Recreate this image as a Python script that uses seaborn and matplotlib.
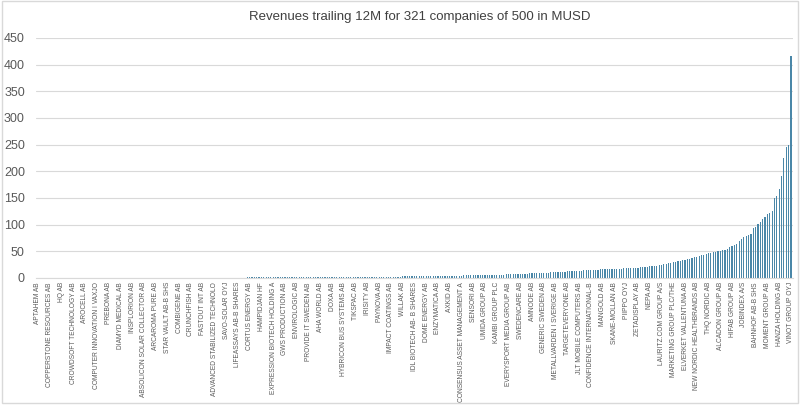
import matplotlib
matplotlib.use("Agg")
import matplotlib.pyplot as plt
import seaborn as sns
import pandas as pd
from matplotlib.patches import Rectangle

title = "Revenues trailing 12M for 321 companies of 500 in MUSD"

revenues = [
    0.01, 0.02, 0.02, 0.03, 0.04, 0.04, 0.05, 0.06, 0.07, 0.07, 0.08, 0.09, 0.10, 0.10, 0.11, 0.12, 0.13, 0.13, 0.14, 0.15,
    0.16, 0.16, 0.17, 0.18, 0.19, 0.20, 0.21, 0.21, 0.22, 0.23, 0.24, 0.25, 0.26, 0.27, 0.27, 0.28, 0.29, 0.30, 0.31, 0.32,
    0.33, 0.34, 0.35, 0.36, 0.37, 0.38, 0.39, 0.40, 0.41, 0.42, 0.43, 0.44, 0.45, 0.46, 0.47, 0.48, 0.49, 0.50, 0.51, 0.52,
    0.53, 0.54, 0.55, 0.56, 0.57, 0.58, 0.59, 0.60, 0.61, 0.62, 0.63, 0.64, 0.65, 0.66, 0.67, 0.68, 0.69, 0.70, 0.72, 0.73,
    0.74, 0.75, 0.76, 0.78, 0.79, 0.80, 0.81, 0.83, 0.84, 0.85, 0.87, 0.88, 0.89, 0.91, 0.92, 0.94, 0.95, 0.97, 0.98, 1.00,
    1.02, 1.03, 1.05, 1.07, 1.08, 1.10, 1.12, 1.14, 1.16, 1.18, 1.20, 1.22, 1.24, 1.26, 1.28, 1.30, 1.33, 1.35, 1.37, 1.40,
    1.42, 1.45, 1.47, 1.50, 1.53, 1.55, 1.58, 1.61, 1.64, 1.67, 1.70, 1.73, 1.76, 1.80, 1.83, 1.86, 1.90, 1.94, 1.97, 2.01,
    2.05, 2.09, 2.13, 2.17, 2.21, 2.26, 2.30, 2.35, 2.39, 2.44, 2.49, 2.54, 2.59, 2.64, 2.69, 2.75, 2.80, 2.86, 2.92, 2.98,
    3.04, 3.10, 3.16, 3.23, 3.29, 3.36, 3.43, 3.50, 3.57, 3.64, 3.71, 3.79, 3.86, 3.94, 4.02, 4.10, 4.18, 4.27, 4.35, 4.44,
    4.53, 4.62, 4.71, 4.80, 4.90, 5.00, 5.10, 5.20, 5.30, 5.41, 5.52, 5.63, 5.74, 5.85, 5.97, 6.09, 6.21, 6.33, 6.46, 6.59,
    6.7, 6.9, 7.1, 7.3, 7.5, 7.7, 7.9, 8.1, 8.3, 8.5, 8.7, 8.9, 9.1, 9.3, 9.5, 9.8, 10.0, 10.2, 10.5, 10.8,
    11.0, 11.2, 11.5, 11.7, 12.0, 12.2, 12.5, 12.7, 13.0, 13.2, 13.5, 13.7, 14.0, 14.2, 14.5, 14.8, 15.0, 15.3, 15.6, 15.9,
    16.1, 16.3, 16.5, 16.7, 16.9, 17.1, 17.3, 17.5, 17.7, 17.9, 18.1, 18.3, 18.6, 18.9, 19.2, 19.5, 19.8, 20.2, 20.6, 21.0,
    21.5, 22.0, 22.6, 23.3, 24.0, 24.8, 25.6, 26.5, 27.4, 28.3, 29.2, 30.1, 31.0, 32.0, 33.0, 34.0, 35.0, 36.2, 37.4, 38.6,
    39.8, 41.0, 42.2, 43.5, 44.8, 46.0, 47.0, 48.0, 49.0, 50.0, 51.0, 52.0, 53.0, 55.0, 58.0, 60.0, 62.0, 64.0, 70.0, 73.0,
    76, 78, 80, 82, 93, 95, 101, 105, 110, 114, 119, 122, 126, 149, 153, 167, 191, 225, 246, 250, 416,
]

# labels shown on every 5th bar
tick_labels = [
    "APTAHEM AB", "COPPERSTONE RESOURCES AB", "HQ AB", "CROWDSOFT TECHNOLOGY AB",
    "AROCELL AB", "COMPUTER INNOVATION I VAXJO", "PREBONA AB", "DIAMYD MEDICAL AB",
    "INSPLORION AB", "ABSOLICON SOLAR COLLECTOR AB", "ARCAROMA PURE AB", "STAR VAULT AB-B SHS",
    "COMBIGENE AB", "CRUNCHFISH AB", "FASTOUT INT AB", "ADVANCED STABILIZED TECHNOLO",
    "SAVO-SOLAR OYJ", "LIFEASSAYS AB-B SHARES", "CORTUS ENERGY AB", "HAMPIDJAN HF",
    "EXPRESSION BIOTECH HOLDING A", "GWS PRODUCTION AB", "ENVIROLOGIC AB", "PROVIDE IT SWEDEN AB",
    "AHA WORLD AB", "DOXA AB", "HYBRICON BUS SYSTEMS AB", "TIKSPAC AB",
    "IRISITY AB", "PAYNOVA AB", "IMPACT COATINGS AB", "WILLAK AB",
    "IDL BIOTECH AB- B SHARES", "DOME ENERGY AB", "ENZYMATICA AB", "AXKID AB",
    "CONSENSUS ASSET MANAGEMENT A", "SENSORI AB", "UMIDA GROUP AB", "KAMBI GROUP PLC",
    "EVERYSPORT MEDIA GROUP AB", "SWEDENCARE AB", "AMNODE AB", "GENERIC SWEDEN AB",
    "METALLVARDEN I SVERIGE AB", "TARGETEVERYONE AB", "JLT MOBILE COMPUTERS AB", "CONFIDENCE INTERNATIONAL-B",
    "MANGOLD AB", "SKANE-MOLLAN AB", "PIIPPO OYJ", "ZETADISPLAY AB",
    "NEPA AB", "LAURITZ.COM GROUP A/S", "MARKETING GROUP PLC/THE", "ELVERKET VALLENTUNA AB",
    "NEW NORDIC HEALTHBRANDS AB", "THQ NORDIC AB", "ALCADON GROUP AB", "HIFAB GROUP AB",
    "JOBINDEX A/S", "BAHNHOF AB-B SHS", "MOMENT GROUP AB", "HANZA HOLDING AB",
    "VINOT GROUP OYJ",
]
label_step = 5
y_ticks = [0, 50, 100, 150, 200, 250, 300, 350, 400, 450]

sns.set_theme(style="white")
plt.rcParams["font.family"] = ["Liberation Sans", "DejaVu Sans"]

df = pd.DataFrame({"rank": list(range(len(revenues))), "revenue": revenues})

fig = plt.figure(figsize=(8.0, 4.13), dpi=100)
ax = fig.add_axes([0.045, 0.327, 0.946, 0.581])

sns.barplot(data=df, x="rank", y="revenue", color="#4a87a8", width=0.5,
            saturation=1, ax=ax, native_scale=True, linewidth=0)

ax.set_xlim(-0.8, len(revenues) - 0.2)
ax.set_ylim(0, 450)
ax.set_yticks(y_ticks)
ax.set_yticklabels([str(v) for v in y_ticks], fontsize=9, color="#595959")
ax.yaxis.grid(True, color="#d9d9d9", linewidth=0.8)
ax.set_axisbelow(True)

ax.set_xticks(list(range(0, len(revenues), label_step)))
ax.set_xticklabels(tick_labels, rotation=90, fontsize=4.8, color="#595959")
ax.tick_params(axis="x", length=0, pad=3)
ax.tick_params(axis="y", length=0, pad=8)
ax.set_xlabel("")
ax.set_ylabel("")
for s in ["top", "right", "left"]:
    ax.spines[s].set_visible(False)
ax.spines["bottom"].set_color("#d9d9d9")
ax.spines["bottom"].set_linewidth(0.8)

fig.text(0.525, 0.958, title, ha="center", va="center", fontsize=9.5,
         color="#404040")

fig.patches.append(Rectangle((0.003, 0.025), 0.994, 0.972, transform=fig.transFigure,
                             fill=False, edgecolor="#d9d9d9", linewidth=1))

fig.savefig("out.png", dpi=100)
